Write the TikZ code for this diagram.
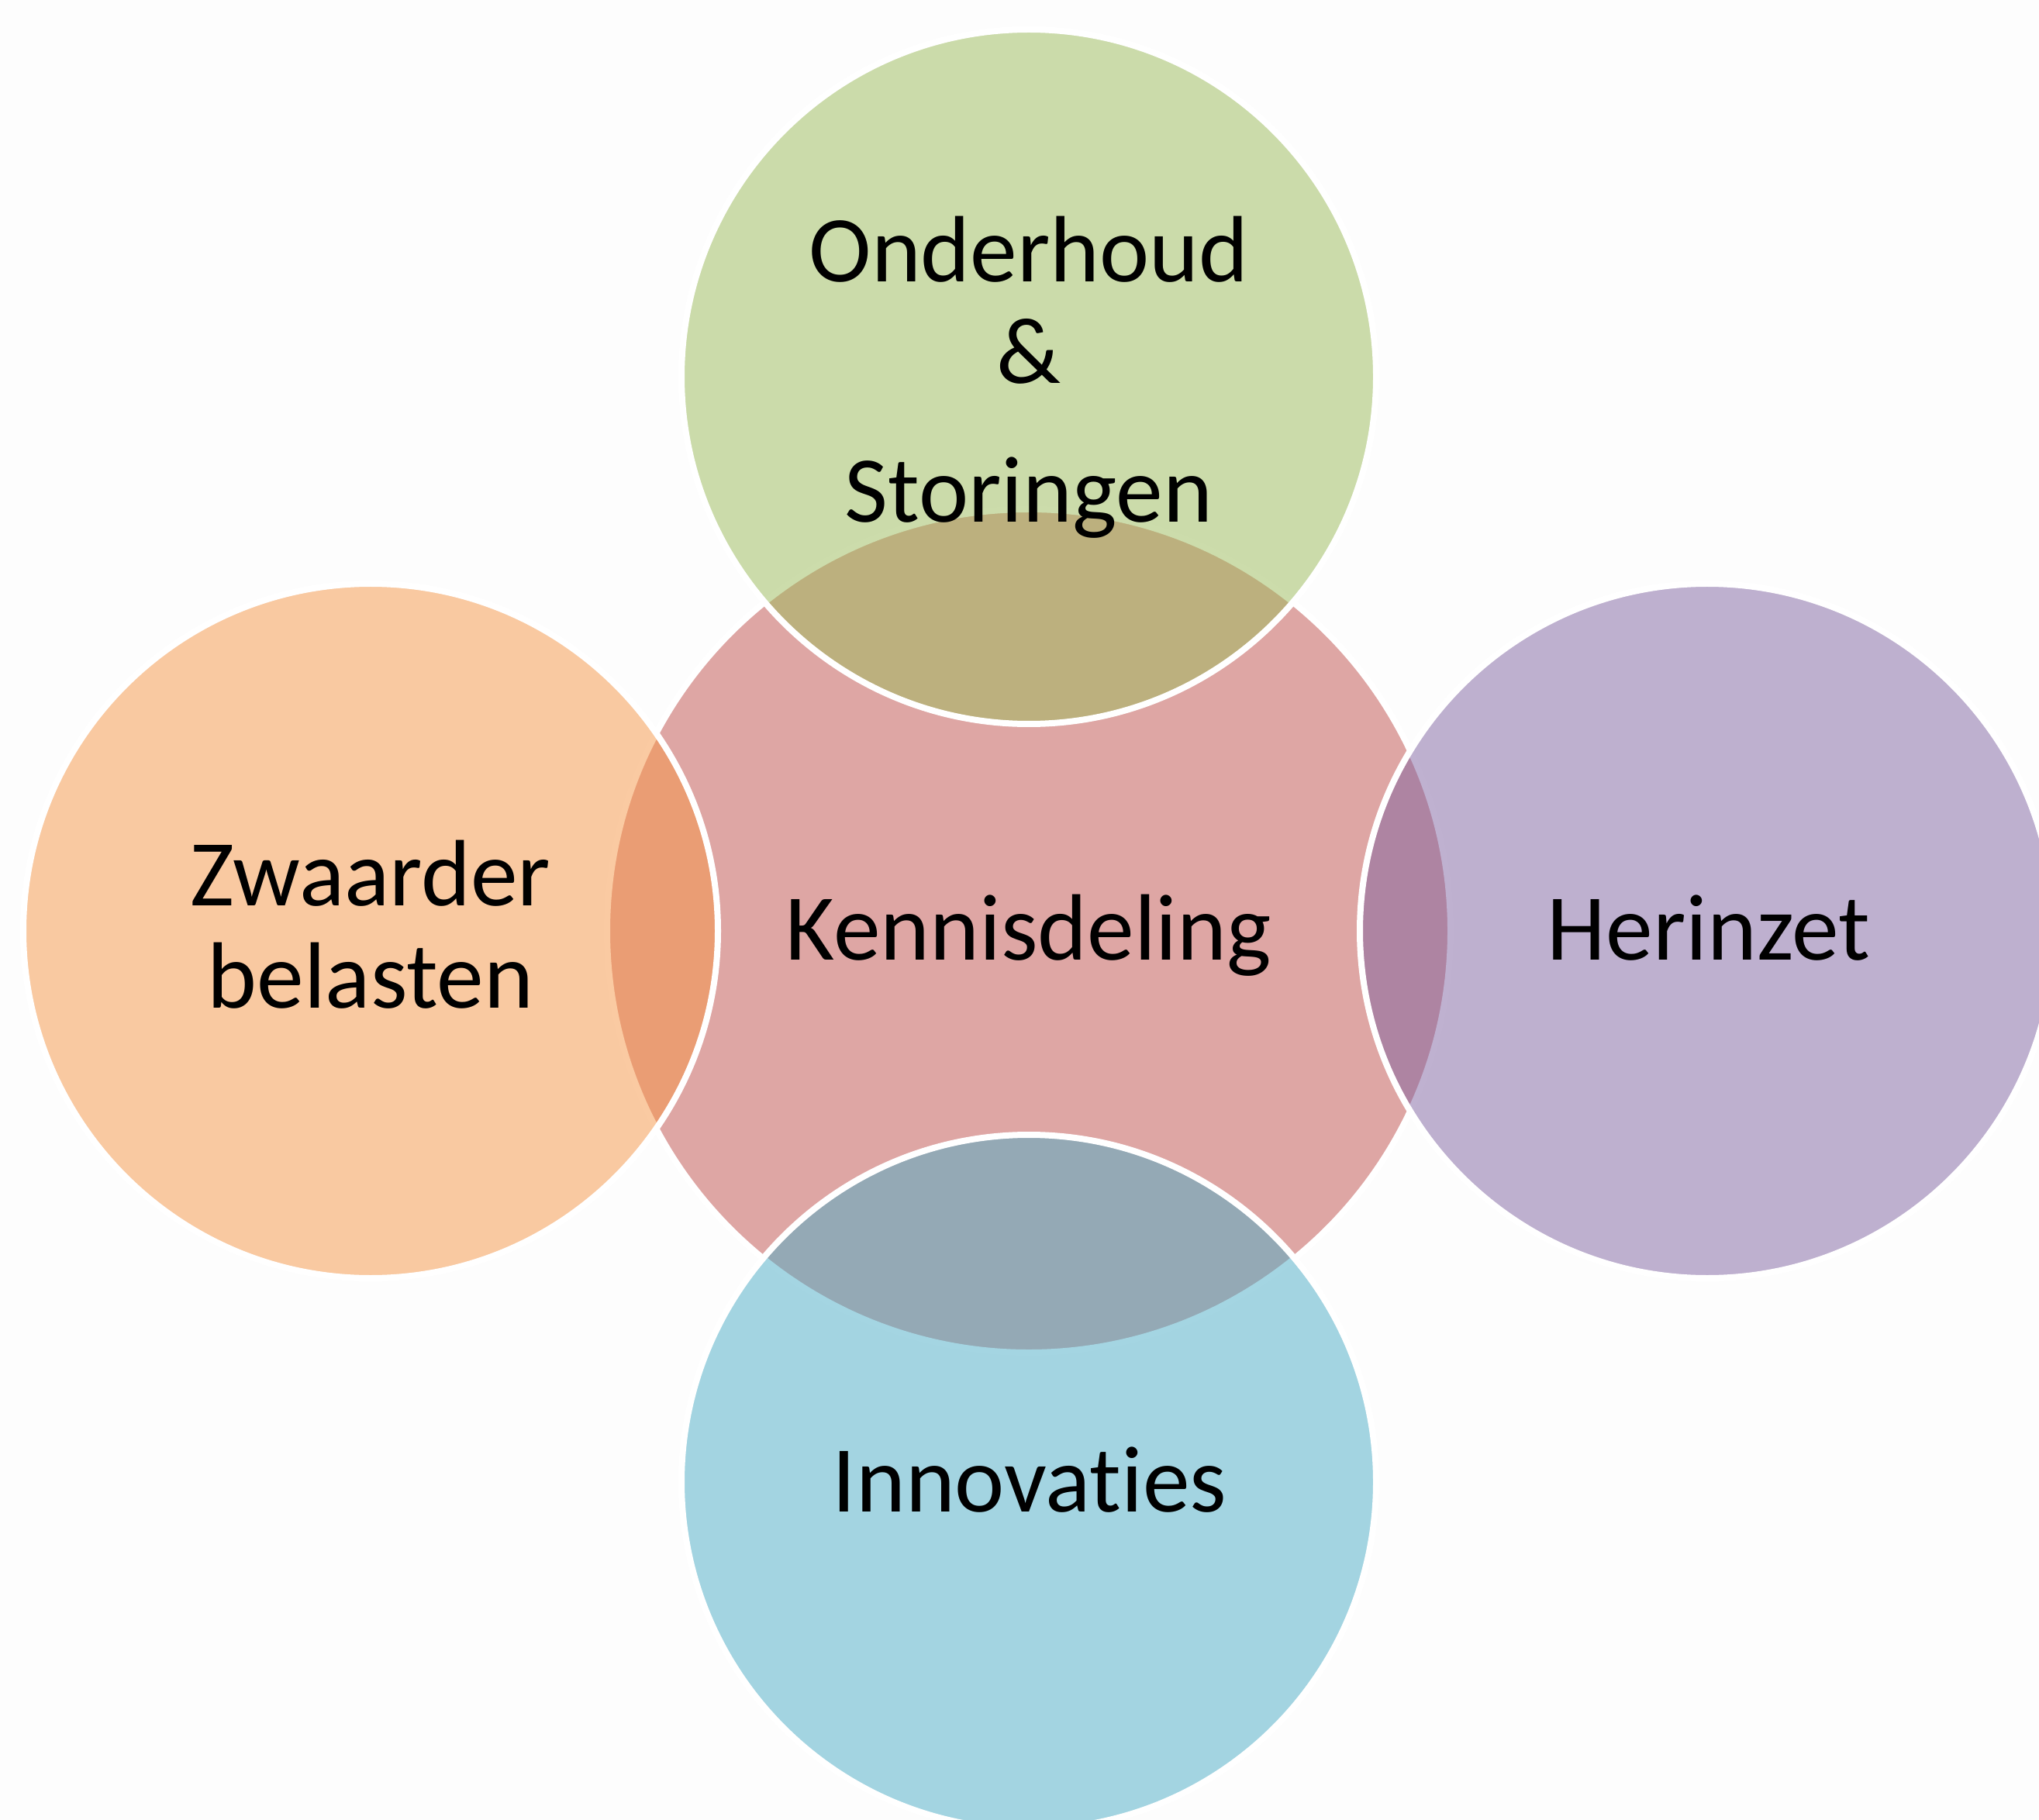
\documentclass[tikz,border=0pt]{standalone}
\usepackage{fontspec}
\setmainfont{Carlito}[Ligatures=NoCommon]
\definecolor{bgc}{HTML}{FDFDFD}
\definecolor{cred}{HTML}{C0504D}
\definecolor{cgreen}{HTML}{9BBB59}
\definecolor{corange}{HTML}{F79646}
\definecolor{cpurple}{HTML}{8064A2}
\definecolor{cblue}{HTML}{4BACC6}
\begin{document}
\begin{tikzpicture}[
  blob/.style={circle, draw=white, line width=0.08cm, fill opacity=0.5, inner sep=0pt, minimum size=#1},
  lbl/.style={font=\fontsize{34.6}{37.3}\selectfont, text=black, inner sep=0pt, align=center}
]
\useasboundingbox (0,0) rectangle (26.30,-23.48);
\fill[bgc] (0,0) rectangle (26.30,-23.48);
\clip (0,0) rectangle (26.30,-23.48);
\node[blob=10.88cm, fill=cred] (kc) at (13.27,-12.01) {};
\node[blob=8.96cm, fill=cgreen] (oc) at (13.27,-4.86) {};
\node[blob=8.96cm, fill=corange] (zc) at (4.78,-12.01) {};
\node[blob=8.96cm, fill=cpurple] (hc) at (22.02,-12.01) {};
\node[blob=8.96cm, fill=cblue] (ic) at (13.27,-19.12) {};
\node[lbl, anchor=base] (kt) at (13.27,-12.38) {Kennisdeling};
\node[lbl, anchor=base] (ht) at (22.04,-12.38) {Herinzet};
\node[lbl, anchor=base] (it) at (13.28,-19.50) {Innovaties};
\node[lbl, anchor=base] (zt) at (4.78,-13.00) {Zwaarder\\belasten};
\node[lbl, anchor=base] (ot) at (13.27,-6.74) {Onderhoud\\\&\\[0.48cm]Storingen};
\end{tikzpicture}
\end{document}
